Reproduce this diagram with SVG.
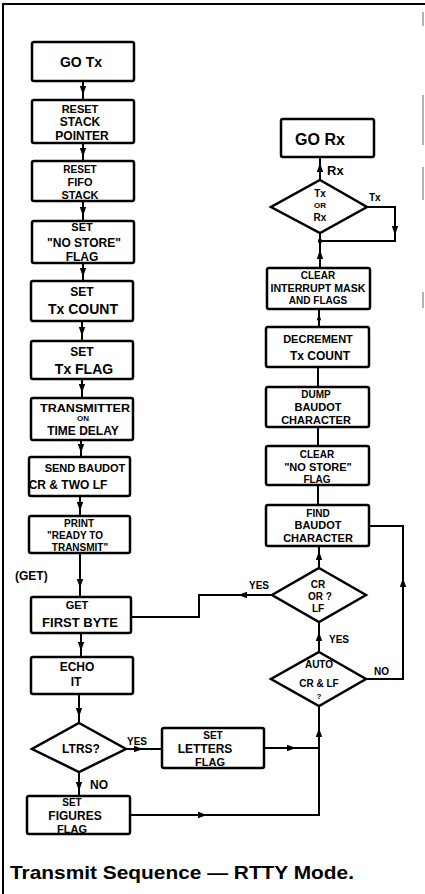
<svg xmlns="http://www.w3.org/2000/svg" xmlns:xlink="http://www.w3.org/1999/xlink" width="425" height="894" viewBox="0 0 425 894">
<style>
.box{fill:#fff;stroke:#000;stroke-width:2.5}
.ln{fill:none;stroke:#000;stroke-width:2}
.t{font-family:"Liberation Sans",Arial,sans-serif;font-weight:bold;text-anchor:middle;fill:#000}
.s{text-anchor:start}
.frame{stroke:#000;stroke-width:2;fill:none}
.faint{stroke:#999;stroke-width:1.5;fill:none}
</style>
<defs>
<path id="ah" d="M0,0 L-3.2,-9 L3.2,-9 Z" fill="#000"/>
</defs>
<rect width="425" height="894" fill="#fff"/>
<g id="frame">
<path class="frame" d="M3,894 V4 H425"/>
<path class="faint" d="M423,12 V26 M423,95 V145 M423,167 V200 M423,292 V308"/>
</g>
<g id="connectors">
<path class="ln" d="M83,81 V100 M83,143 V161 M83,201 V221 M83,263 V281 M82,321 V341 M82,379 V398 M81,440 V457 M80,496 V516 M80,553 V597 M81,633 V657 M79,694 V723 M79,772 V796"/>
<use xlink:href="#ah" transform="translate(83,95)"/>
<use xlink:href="#ah" transform="translate(83,157)"/>
<use xlink:href="#ah" transform="translate(83,216)"/>
<use xlink:href="#ah" transform="translate(83,277)"/>
<use xlink:href="#ah" transform="translate(82,336)"/>
<use xlink:href="#ah" transform="translate(82,393)"/>
<use xlink:href="#ah" transform="translate(81,453)"/>
<use xlink:href="#ah" transform="translate(80,511)"/>
<use xlink:href="#ah" transform="translate(80,588)"/>
<use xlink:href="#ah" transform="translate(81,651)"/>
<use xlink:href="#ah" transform="translate(79,717)"/>
<use xlink:href="#ah" transform="translate(79,791)"/>
<path class="ln" d="M131,617 H199 V595 H272"/>
<use xlink:href="#ah" transform="translate(238,595) rotate(90)"/>
<path class="ln" d="M126,749 H162"/>
<use xlink:href="#ah" transform="translate(143,749) rotate(-90)"/>
<path class="ln" d="M264,748 H319"/>
<use xlink:href="#ah" transform="translate(296,748) rotate(-90)"/>
<path class="ln" d="M130,815 H319 V706"/>
<use xlink:href="#ah" transform="translate(207,815) rotate(-90)"/>
<use xlink:href="#ah" transform="translate(319,728) rotate(180)"/>
<path class="ln" d="M319,652 V622"/>
<use xlink:href="#ah" transform="translate(319,632) rotate(180)"/>
<path class="ln" d="M319,568 V546"/>
<use xlink:href="#ah" transform="translate(319,551) rotate(180)"/>
<path class="ln" d="M366,679 H403 V526 H369"/>
<use xlink:href="#ah" transform="translate(403,578) rotate(180)"/>
<path class="ln" d="M318,505 V485 M318,446 V427 M318,387 V367 M319,327 V309"/>
<use xlink:href="#ah" transform="translate(319,314) rotate(180) scale(0.7)"/>
<path class="ln" d="M320,268 V233"/>
<use xlink:href="#ah" transform="translate(320,250) rotate(180)"/>
<path class="ln" d="M367,207 H395 V241 H320"/>
<use xlink:href="#ah" transform="translate(395,235)"/>
<circle cx="320" cy="241" r="2.2" fill="#000"/>
<path class="ln" d="M320,180 V157"/>
<use xlink:href="#ah" transform="translate(320,163) rotate(180)"/>
</g>
<g id="n-gotx"><rect class="box" x="32" y="42" width="102" height="39" rx="2"/><text class="t" x="81" y="67" font-size="14">GO Tx</text></g>
<g id="n-resetsp"><rect class="box" x="32" y="100" width="102" height="43" rx="2"/>
<text class="t" x="80" y="113" font-size="11">RESET</text><text class="t" x="80" y="126" font-size="12">STACK</text><text class="t" x="82" y="140" font-size="12">POINTER</text></g>
<g id="n-resetfifo"><rect class="box" x="32" y="161" width="102" height="40" rx="2"/>
<text class="t" x="80" y="173" font-size="10">RESET</text><text class="t" x="80" y="186" font-size="11">FIFO</text><text class="t" x="80" y="198.5" font-size="11">STACK</text></g>
<g id="n-setnostore"><rect class="box" x="32" y="221" width="102" height="42" rx="2"/>
<text class="t" x="82" y="231" font-size="11">SET</text><text class="t" x="84" y="247" font-size="12">"NO STORE"</text><text class="t" x="82" y="261" font-size="12">FLAG</text></g>
<g id="n-settxcount"><rect class="box" x="31" y="281" width="102" height="40" rx="2"/>
<text class="t" x="82" y="296" font-size="12">SET</text><text class="t" x="83" y="314" font-size="14">Tx COUNT</text></g>
<g id="n-settxflag"><rect class="box" x="31" y="341" width="102" height="38" rx="2"/>
<text class="t" x="82" y="356" font-size="12">SET</text><text class="t" x="84" y="374" font-size="14">Tx FLAG</text></g>
<g id="n-transmitter"><rect class="box" x="31" y="398" width="102" height="42" rx="2"/>
<text class="t" x="85" y="412" font-size="11" textLength="90" lengthAdjust="spacingAndGlyphs">TRANSMITTER</text><text class="t" x="83" y="421" font-size="8">ON</text><text class="t" x="83" y="435" font-size="12">TIME DELAY</text></g>
<g id="n-sendbaudot"><rect class="box" x="29" y="457" width="101" height="39" rx="2"/>
<text class="t" x="85" y="472" font-size="11">SEND BAUDOT</text><text class="t" x="68" y="489" font-size="12">CR &amp; TWO LF</text></g>
<g id="n-print"><rect class="box" x="29" y="516" width="101" height="37" rx="2"/>
<text class="t" x="79" y="527" font-size="10">PRINT</text><text class="t" x="75" y="539" font-size="10">"READY TO</text><text class="t" x="80" y="551" font-size="10">TRANSMIT"</text></g>
<text class="t s" x="15" y="580" font-size="12">(GET)</text>
<g id="n-getfirst"><rect class="box" x="31" y="597" width="100" height="36" rx="2"/>
<text class="t" x="77" y="609" font-size="11">GET</text><text class="t" x="80" y="627" font-size="13">FIRST BYTE</text></g>
<g id="n-echo"><rect class="box" x="31" y="657" width="102" height="37" rx="2"/>
<text class="t" x="77" y="671" font-size="12">ECHO</text><text class="t" x="76" y="686" font-size="12">IT</text></g>
<g id="n-ltrs"><path class="box" d="M79,723 L126,749 L79,772 L32,749 Z"/><text class="t" x="81" y="753" font-size="12">LTRS?</text></g>
<text class="t s" x="90" y="789" font-size="12">NO</text>
<text class="t s" x="127" y="745" font-size="10">YES</text>
<g id="n-figures"><rect class="box" x="27" y="796" width="103" height="38" rx="2"/>
<text class="t" x="72" y="806" font-size="10">SET</text><text class="t" x="75" y="820" font-size="12">FIGURES</text><text class="t" x="72" y="833" font-size="11">FLAG</text></g>
<g id="n-letters"><rect class="box" x="162" y="728" width="102" height="40" rx="2"/>
<text class="t" x="213" y="739" font-size="10">SET</text><text class="t" x="205" y="753" font-size="12">LETTERS</text><text class="t" x="210" y="766" font-size="11">FLAG</text></g>
<g id="n-gorx"><rect class="box" x="281" y="119" width="93" height="38" rx="2"/><text class="t" x="320" y="145" font-size="16">GO Rx</text></g>
<text class="t s" x="327" y="175" font-size="13">Rx</text>
<g id="n-txorrx"><path class="box" d="M320,180 L367,207 L320,233 L271,207 Z"/>
<text class="t" x="320" y="197" font-size="10">Tx</text><text class="t" x="320" y="208" font-size="8">OR</text><text class="t" x="320" y="221" font-size="10">Rx</text></g>
<text class="t s" x="369" y="201" font-size="10">Tx</text>
<g id="n-clearint"><rect class="box" x="267" y="268" width="103" height="41" rx="2"/>
<text class="t" x="318" y="279" font-size="10">CLEAR</text><text class="t" x="318" y="292" font-size="10" textLength="95" lengthAdjust="spacingAndGlyphs">INTERRUPT MASK</text><text class="t" x="318" y="304" font-size="10">AND FLAGS</text></g>
<g id="n-decrement"><rect class="box" x="266" y="327" width="103" height="40" rx="2"/>
<text class="t" x="318" y="343" font-size="11">DECREMENT</text><text class="t" x="320" y="360" font-size="12">Tx COUNT</text></g>
<g id="n-dump"><rect class="box" x="266" y="387" width="103" height="40" rx="2"/>
<text class="t" x="316" y="398" font-size="10">DUMP</text><text class="t" x="318" y="411" font-size="11">BAUDOT</text><text class="t" x="316" y="424" font-size="11">CHARACTER</text></g>
<g id="n-clearns"><rect class="box" x="266" y="446" width="103" height="39" rx="2"/>
<text class="t" x="317" y="458" font-size="10">CLEAR</text><text class="t" x="318" y="471" font-size="11">"NO STORE"</text><text class="t" x="317" y="483" font-size="10">FLAG</text></g>
<g id="n-find"><rect class="box" x="266" y="505" width="103" height="41" rx="2"/>
<text class="t" x="318" y="517" font-size="10">FIND</text><text class="t" x="318" y="529" font-size="11">BAUDOT</text><text class="t" x="318" y="542" font-size="11">CHARACTER</text></g>
<g id="n-crlf"><path class="box" d="M319,568 L366,595 L319,622 L272,595 Z"/>
<text class="t" x="318" y="588" font-size="10">CR</text><text class="t" x="320" y="600" font-size="10">OR ?</text><text class="t" x="318" y="612" font-size="10">LF</text></g>
<text class="t s" x="249" y="589" font-size="10">YES</text>
<text class="t s" x="329" y="643" font-size="10">YES</text>
<g id="n-auto"><path class="box" d="M319,652 L366,679 L319,706 L271,679 Z"/>
<text class="t" x="319" y="668" font-size="10">AUTO</text><text class="t" x="319" y="687" font-size="10">CR &amp; LF</text><text class="t" x="319" y="699" font-size="8">?</text></g>
<text class="t s" x="374" y="675" font-size="10">NO</text>
<text class="t s" x="10" y="879" font-size="18.5" textLength="344" lengthAdjust="spacingAndGlyphs">Transmit Sequence — RTTY Mode.</text>
</svg>
